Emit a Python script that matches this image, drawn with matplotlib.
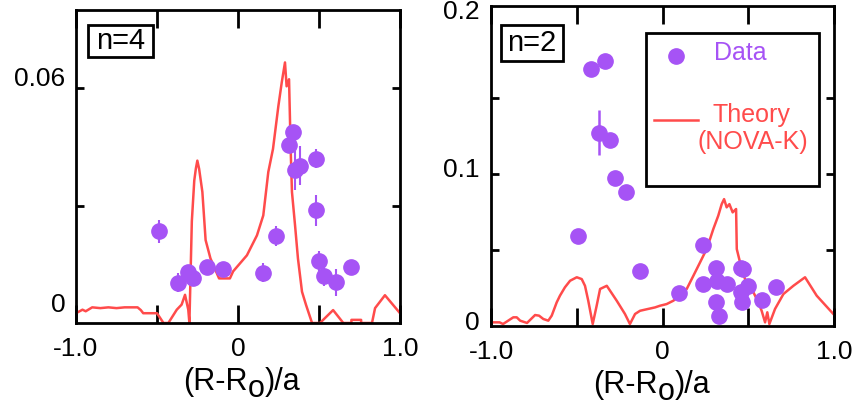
import matplotlib
matplotlib.use("Agg")
import matplotlib.pyplot as plt
from matplotlib.patches import Rectangle
from matplotlib.transforms import IdentityTransform

plt.rcParams['font.family'] = ['Liberation Sans', 'DejaVu Sans']

PURPLE = '#A653F5'
RED = '#FF4B4B'

# n=4 panel: measured points
n4_x = [-0.488, -0.372, -0.31, -0.275, -0.193, -0.095, 0.152, 0.235, 0.338,
        0.317, 0.383, 0.352, 0.481, 0.481, 0.498, 0.531, 0.605, 0.698]
n4_y = [0.0234, 0.0103, 0.0131, 0.0116, 0.0142, 0.0138, 0.0129, 0.0223, 0.0487,
        0.0455, 0.0402, 0.039, 0.042, 0.0288, 0.0158, 0.0119, 0.0104, 0.0142]
n4_err = [0.003, 0.0025, 0.0015, 0.0015, 0.0015, 0.0015, 0.0025, 0.0025, 0.0015,
          0.0015, 0.005, 0.005, 0.0025, 0.004, 0.0025, 0.0025, 0.0035, 0.0015]

# n=4 panel: NOVA-K theory
n4_tx = [-1.0, -0.96, -0.94, -0.9, -0.85, -0.8, -0.75, -0.7, -0.62, -0.6, -0.585,
         -0.5, -0.46, -0.43, -0.378, -0.348, -0.327, -0.307, -0.30, -0.285,
         -0.27, -0.26, -0.251, -0.24, -0.22, -0.2, -0.17, -0.14, -0.117, -0.05,
         -0.03, 0.055, 0.117, 0.156, 0.187, 0.216, 0.249, 0.27, 0.29, 0.30,
         0.315, 0.325, 0.333, 0.352, 0.37, 0.395, 0.42, 0.457, 0.506, 0.587,
         0.65, 0.70, 0.70, 0.76, 0.76, 0.827, 0.846, 0.907, 1.0]
n4_ty = [0.0025, 0.0034, 0.003, 0.004, 0.0038, 0.004, 0.0038, 0.004, 0.004, 0.0033, 0.0025,
         0.0025, 0.0, 0.0, 0.0034, 0.0047, 0.0072, 0.0034, 0.0, 0.026,
         0.0364, 0.0395, 0.0415, 0.0394, 0.0335, 0.0212, 0.0165, 0.0136, 0.0114, 0.0114,
         0.0132, 0.0173, 0.0224, 0.0275, 0.0386, 0.0445, 0.0554, 0.0615, 0.0666, 0.0605,
         0.0623, 0.0445, 0.0335, 0.025, 0.0165, 0.008, 0.0046, 0.0, 0.0, 0.0033,
         0.0, 0.0, 0.0008, 0.0008, 0.0, 0.0, 0.0038, 0.0071, 0.0025]

# n=2 panel: measured points
n2_x = [-0.417, -0.333, -0.368, -0.306, -0.277, -0.215, -0.494, -0.131, 0.094,
        0.234, 0.312, 0.234, 0.316, 0.378, 0.312, 0.329, 0.458, 0.471, 0.5,
        0.456, 0.462, 0.582, 0.662]
n2_y = [0.1686, 0.174, 0.127, 0.122, 0.097, 0.0877, 0.0589, 0.0363, 0.0215,
        0.0533, 0.0379, 0.0276, 0.0297, 0.0276, 0.0156, 0.0064, 0.0379, 0.0374, 0.026,
        0.0221, 0.0156, 0.0171, 0.0258]
n2_err = [0, 0, 0.015, 0, 0, 0, 0, 0, 0, 0, 0, 0, 0, 0, 0, 0, 0, 0, 0, 0, 0, 0, 0]

# n=2 panel: NOVA-K theory
n2_tx = [-0.996, -0.95, -0.93, -0.87, -0.85, -0.83, -0.79, -0.743, -0.72, -0.695,
         -0.666, -0.646, -0.617, -0.598, -0.569, -0.539, -0.5, -0.471, -0.452,
         -0.433, -0.407, -0.384, -0.364, -0.325, -0.267, -0.219, -0.19, -0.16,
         -0.131, -0.092, -0.044, -0.015, 0.024, 0.063, 0.102, 0.141, 0.18, 0.219,
         0.248, 0.277, 0.296, 0.325, 0.345, 0.359, 0.374, 0.39, 0.409, 0.429,
         0.433, 0.452, 0.481, 0.53, 0.559, 0.578, 0.598, 0.611, 0.623, 0.656,
         0.705, 0.763, 0.831, 0.899, 0.996]
n2_ty = [0.0024, 0.0024, 0.0013, 0.0057, 0.0057, 0.0035, 0.002, 0.0072, 0.0068, 0.0046,
         0.0035, 0.0068, 0.0155, 0.0199, 0.0254, 0.0297, 0.032, 0.0308, 0.0264,
         0.0166, 0.0013, 0.0133, 0.0243, 0.0264, 0.0166, 0.0079, 0.0013, 0.0079,
         0.01, 0.011, 0.0122, 0.0133, 0.0144, 0.0166, 0.0199, 0.0243, 0.033, 0.0418,
         0.0484, 0.0571, 0.0636, 0.0724, 0.08, 0.0833, 0.0779, 0.08, 0.0746, 0.0768,
         0.0505, 0.0418, 0.0308, 0.0221, 0.0155, 0.01, 0.0024, 0.009, 0.0013, 0.0112,
         0.021, 0.0264, 0.032, 0.0199, 0.0079]

x_ticks = [-1.0, -0.5, 0.0, 0.5, 1.0]
x_labels = ['-1.0', '', '0', '', '1.0']

fig = plt.figure(figsize=(8.52, 4.07), dpi=100)
ax1 = fig.add_axes([0.0892, 0.2064, 0.3803, 0.769])
ax2 = fig.add_axes([0.5763, 0.199, 0.4026, 0.786])


def style(ax, ylim, yticks, ylabels):
    ax.set_xlim(-1, 1)
    ax.set_ylim(*ylim)
    ax.set_xticks(x_ticks)
    ax.set_xticklabels(x_labels, fontsize=19)
    ax.set_yticks(yticks)
    ax.set_yticklabels([])
    ax.tick_params(axis='x', direction='in', top=True, length=13, width=2, pad=10)
    ax.tick_params(axis='y', direction='in', right=True, length=6, width=2)
    for s in ax.spines.values():
        s.set_linewidth(2)
    for val, txt, dy in ylabels:
        ax.text(-0.033, val + dy, txt, transform=ax.get_yaxis_transform(),
                ha='right', va='center', fontsize=19)


def tag(ax, box, txt, xy):
    x0, y0, x1, y1 = box
    ax.add_patch(Rectangle((x0, y0), x1 - x0, y1 - y0, transform=ax.transAxes,
                           fill=False, lw=2, ec='black', zorder=5))
    ax.text(xy[0], xy[1], txt, transform=ax.transAxes, ha='center', va='center',
            fontsize=21, zorder=6)


def xlabel(xc, baseline):
    r = fig.canvas.get_renderer()
    parts = [("(R-R", 0), ("o", -7), (")/a", 0)]
    texts = []
    for s, dy in parts:
        t = fig.text(0, 0, s, fontsize=22, transform=IdentityTransform(),
                     ha='left', va='baseline')
        texts.append((t, dy))
    widths = [t.get_window_extent(r).width for t, _ in texts]
    x = xc - sum(widths) / 2
    for (t, dy), w in zip(texts, widths):
        t.set_position((x, 407 - baseline + dy))
        x += w


# left panel, n=4
ax1.plot(n4_tx, n4_ty, color=RED, lw=1.8, zorder=2)
ax1.errorbar(n4_x, n4_y, yerr=n4_err, fmt='o', color=PURPLE, ms=11,
             elinewidth=1.5, capsize=0, zorder=3)
style(ax1, (0, 0.08), [0.03, 0.06],
      [(0, '0', 0.0046), (0.06, '0.06', 0.0023)])
tag(ax1, (0.037, 0.85, 0.238, 0.952), 'n=4', (0.137, 0.901))

# right panel, n=2
ax2.plot(n2_tx, n2_ty, color=RED, lw=1.8, zorder=2)
ax2.errorbar(n2_x, n2_y, yerr=n2_err, fmt='o', color=PURPLE, ms=11,
             elinewidth=1.8, capsize=0, zorder=3)
style(ax2, (0, 0.21), [0.05, 0.1, 0.15],
      [(0, '0', 0.002), (0.1, '0.1', 0.0026), (0.2, '0.2', 0.006)])
tag(ax2, (0.029, 0.828, 0.21, 0.941), 'n=2', (0.1195, 0.884))

# legend box
ax2.add_patch(Rectangle((0.452, 0.4375), 0.504, 0.4785, transform=ax2.transAxes,
                        fill=True, fc='white', lw=2, ec='black', zorder=5))
ax2.plot([0.539], [0.844], 'o', color=PURPLE, ms=11, transform=ax2.transAxes,
         zorder=6, clip_on=False)
ax2.text(0.65, 0.853, 'Data', color=PURPLE, fontsize=18, transform=ax2.transAxes,
         ha='left', va='center', zorder=6)
ax2.plot([0.475, 0.603], [0.644, 0.644], color=RED, lw=1.8, transform=ax2.transAxes,
         zorder=6)
ax2.text(0.647, 0.659, 'Theory', color=RED, fontsize=18, transform=ax2.transAxes,
         ha='left', va='center', zorder=6)
ax2.text(0.601, 0.575, '(NOVA-K)', color=RED, fontsize=18, transform=ax2.transAxes,
         ha='left', va='center', zorder=6)

xlabel(242, 390)
xlabel(652, 393)

fig.savefig('out.png', dpi=100)
